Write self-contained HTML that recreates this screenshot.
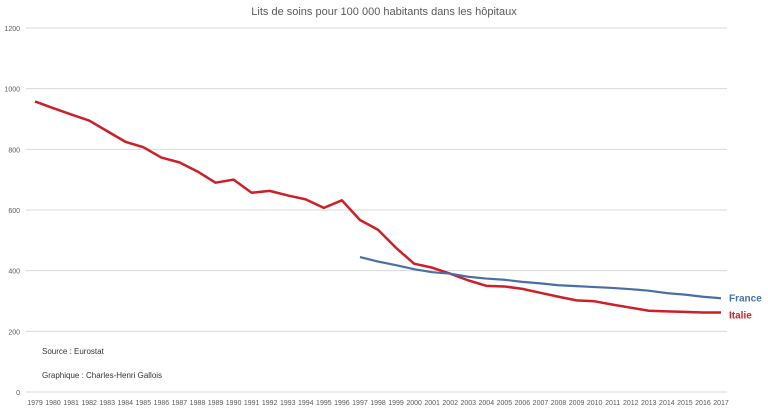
<!DOCTYPE html>
<html><head><meta charset="utf-8"><style>
body{margin:0;background:#fff;font-family:"Liberation Sans",sans-serif}
svg text{font-family:"Liberation Sans",sans-serif}
</style></head><body>
<svg id="chart" width="768" height="410" xmlns="http://www.w3.org/2000/svg">
<rect width="768" height="410" fill="#fff"/>
<text x="384" y="15" text-anchor="middle" font-size="11" fill="#595959">Lits de soins pour 100 000 habitants dans les hôpitaux</text>
<g id="grid"></g><g id="ylabels"></g><g id="xlabels"></g><g id="lines"></g>
<text x="42" y="354" font-size="8" fill="#333">Source : Eurostat</text>
<text x="42" y="378" font-size="8" fill="#333">Graphique : Charles-Henri Gallois</text>
</svg>
<script>
const years=[];for(let y=1979;y<=2017;y++)years.push(y);
const yTicks=[0,200,400,600,800,1000,1200];
const italyValues=[958,936,915,895,860,825,807,773,757,727,690,700,657,663,648,635,607,632,567,535,475,423,410,390,368,350,348,340,327,314,302,299,288,278,268,266,264,262,262];
const franceYears=[1997,1998,1999,2000,2001,2002,2003,2004,2005,2006,2007,2008,2009,2010,2011,2012,2013,2014,2015,2016,2017];
const franceValues=[445,430,418,405,395,390,380,374,370,363,358,352,349,346,343,339,334,326,321,314,309];
const NS="http://www.w3.org/2000/svg";
const x=yr=>35+(yr-1979)*(721-35)/38;
const y=v=>392-v*(392-28)/1200;
function mk(tag,attrs,parent){const e=document.createElementNS(NS,tag);for(const k in attrs)e.setAttribute(k,attrs[k]);document.getElementById(parent).appendChild(e);return e;}
yTicks.forEach(t=>{
 const l=mk('line',{x1:26,x2:727,y1:y(t),y2:y(t),stroke:'#d9d9d9','stroke-width':1},'grid');
 
 
 const tx=mk('text',{x:20,y:y(t)+3,'text-anchor':'end','font-size':7,fill:'#595959'},'ylabels');
 tx.textContent=t;
 
 
});
years.forEach(yr=>{
 const tx=mk('text',{x:x(yr),y:405,'text-anchor':'middle','font-size':7,fill:'#595959'},'xlabels');
 tx.textContent=yr;
 
 
});
const it=mk('polyline',{points:years.map((yr,i)=>x(yr)+','+y(italyValues[i])).join(' '),fill:'none',stroke:'#cc1f27','stroke-width':2.5,'stroke-linejoin':'round'},'lines');


const fr=mk('polyline',{points:franceYears.map((yr,i)=>x(yr)+','+y(franceValues[i])).join(' '),fill:'none',stroke:'#4a6fa5','stroke-width':2.2,'stroke-linejoin':'round'},'lines');


const lf=mk('text',{x:729,y:y(franceValues[franceValues.length-1])+3,'font-size':10,'font-weight':'bold',fill:'#4a6fa5'},'lines');
lf.textContent='France';


const li=mk('text',{x:729,y:y(italyValues[italyValues.length-1])+6,'font-size':10,'font-weight':'bold',fill:'#cc1f27'},'lines');
li.textContent='Italie';


</script>
</body></html>
